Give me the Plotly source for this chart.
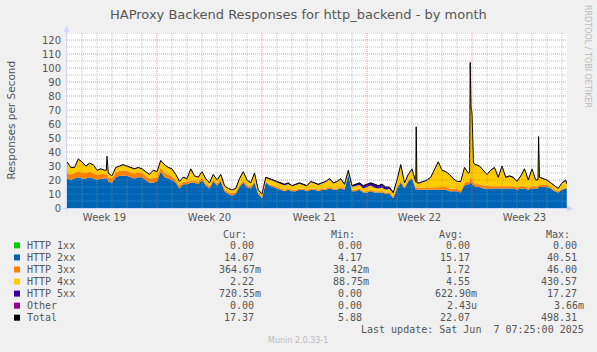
import numpy as np
import plotly.graph_objects as go

# ---------------- data ----------------
# sample times in days since start of the 33-day window (6-hour samples)
grid_days = np.arange(0, 33.26, 0.25)

# one line per day: values at +0h, +6h, +12h, +18h
http_2xx_grid = [
    21, 20, 21, 22,  21, 21, 22, 21,  20, 21, 21, 19,  18, 22, 23, 23,
    23, 22, 21, 22,  22, 20, 18, 18,  19, 26, 22, 21,  20, 18, 14, 17,
    17, 18, 18, 17,  20, 16, 14, 19,  16, 19, 12, 10,  9, 10, 15, 18,
    15, 14, 18, 10,  7, 18, 16, 15,  14, 13, 12, 13,  12, 12, 13, 13,
    12, 13, 13, 12,  13, 13, 14, 13,  13, 14, 13, 24,  12, 12, 13, 11,
    11, 12, 11, 11,  11, 10, 10, 7,  14, 18, 14, 19,  21, 13, 13, 13,
    13, 13, 13, 13,  13, 13, 12, 12,  12, 11, 16, 17,  17, 15, 15, 14,
    14, 14, 14, 14,  14, 14, 14, 14,  13, 14, 14, 13,  14, 14, 15, 15,
    15, 14, 12, 11,  13, 14,
]
http_3xx_grid = [
    4, 4, 4, 4.5,  4, 4, 4, 4,  3.5, 3.5, 3, 3,  3, 3.5, 3.5, 4,
    3.5, 3.5, 3.5, 3.5,  3, 3, 3, 3.5,  3, 3, 3, 3,  2.5, 2, 2, 2,
    1.5, 1.5, 1.5, 1.5,  2, 1.5, 1.5, 1.5,  1.5, 1.5, 1.5, 1.5,  1.5, 1.5, 1.5, 1.5,
    1.5, 1.5, 1.5, 1,  1, 1, 1, 1,  1, 1, 1, 1,  1, 1, 1, 1,
    1, 1, 1, 1,  1, 1, 1, 1,  1, 1, 1, 0.5,  1, 1, 1, 1,
    1, 1, 1, 1,  1, 1, 1, 1,  1, 1.5, 1, 1,  1, 1.5, 1.5, 1.5,
    1.5, 1.5, 2, 2,  2, 2, 2, 2,  1.5, 1.5, 2, 2,  3, 2, 2, 2,
    1.5, 1.5, 1.5, 1.5,  1.5, 1.5, 1.5, 1.5,  1.5, 1.5, 1.5, 1.5,  1.5, 1.5, 1.5, 1.5,
    1.5, 1, 1, 1,  1, 0.5,
]
http_4xx_grid = [
    7.7, 4.7, 3.7, 8.2,  7.7, 4.7, 5.7, 5.7,  3.2, 3.2, 2.7, 2.7,  1.7, 3.2, 3.2, 3.7,
    3.2, 3.2, 3.2, 3.2,  2.7, 2.7, 2.7, 5.2,  3.7, 4.7, 5.7, 4.7,  5.2, 3.7, 2.7, 2.7,
    2.2, 8.2, 3.2, 3.2,  3.7, 3.2, 2.2, 3.2,  2.2, 3.2, 2.2, 2.2,  2.2, 2.2, 4.2, 6.2,
    3.2, 2.2, 5.2, 1.7,  1.7, 2.5, 3.5, 3.3,  3, 3, 3, 3.2,  2.5, 3.5, 3.3, 2.3,
    2.5, 4.5, 3.5, 3.5,  3.5, 4.5, 5.5, 3.5,  4.5, 5.5, 2.5, 1,  2.2, 3, 2.5, 2,
    3, 3, 2.5, 2,  2.5, 2, 2.5, 2.5,  4.5, 11, 2.5, 3.5,  5.5, 3.7, 3.2, 4.2,
    5.2, 7.2, 11.7, 17.7,  11.7, 10.7, 9.7, 6.7,  5.2, 6.2, 10.7, 5.7,  47.5, 13.7, 12.7, 10.7,
    8.2, 11.2, 13, 6,  14, 6, 7, 6,  4.2, 7.2, 12.2, 5.2,  12.2, 4.2, 5.2, 4.2,
    3.2, 2.7, 2.7, 1.7,  3.7, 4.8,
]
http_5xx_grid = [
    0.3, 0.3, 0.3, 0.3,  0.3, 0.3, 0.3, 0.3,  0.3, 0.3, 0.3, 0.3,  0.3, 0.3, 0.3, 0.3,
    0.3, 0.3, 0.3, 0.3,  0.3, 0.3, 0.3, 0.3,  0.3, 0.3, 0.3, 0.3,  0.3, 0.3, 0.3, 0.3,
    0.3, 0.3, 0.3, 0.3,  0.3, 0.3, 0.3, 0.3,  0.3, 0.3, 0.3, 0.3,  0.3, 0.3, 0.3, 0.3,
    0.3, 0.3, 0.3, 0.3,  0.3, 0.5, 0.5, 0.7,  1, 1, 1, 0.8,  0.5, 0.5, 0.7, 0.7,
    0.5, 0.5, 0.5, 0.5,  0.5, 0.5, 0.5, 0.5,  0.5, 0.5, 0.5, 1.5,  0.8, 1, 1.5, 2,
    2, 2, 2.5, 2,  2.5, 2, 1.5, 0.5,  0.5, 0.5, 0.5, 0.5,  0.5, 0.5, 0.3, 0.3,
    0.3, 0.3, 0.3, 0.3,  0.3, 0.3, 0.3, 0.3,  0.3, 0.3, 0.3, 0.3,  0.3, 0.3, 0.3, 0.3,
    0.3, 0.3, 0.5, 0.5,  0.5, 0.5, 0.5, 0.5,  0.3, 0.3, 0.3, 0.3,  0.3, 0.3, 0.3, 0.3,
    0.3, 0.3, 0.3, 0.3,  0.3, 0.7,
]

# short spikes between the 6-hour samples (with their shoulders), plus the final sample
extra_days = [2.62, 2.67, 2.72, 23.28, 23.33, 26.84, 26.88, 26.94, 27.10, 31.40, 31.44, 33.32]
http_2xx_extra = [21, 22, 19, 14, 13, 17, 18, 18, 16, 14, 15, 14.07]
http_3xx_extra = [3, 3.5, 3, 1.5, 1.5, 2, 4, 3, 2, 1.5, 1.5, 0.36]
http_4xx_extra = [2.7, 11.2, 3, 42, 3.2, 6, 81.5, 50.5, 13.7, 4.5, 34.2, 2.22]
http_5xx_extra = [0.3, 0.3, 0.3, 0.5, 0.3, 0.3, 0.5, 0.5, 0.3, 0.3, 0.3, 0.72]

for arr in (http_2xx_grid, http_3xx_grid, http_4xx_grid, http_5xx_grid):
    assert len(arr) == len(grid_days), len(arr)
for arr in (http_2xx_extra, http_3xx_extra, http_4xx_extra, http_5xx_extra):
    assert len(arr) == len(extra_days), len(arr)

week_labels = ["Week 19", "Week 20", "Week 21", "Week 22", "Week 23"]
week_centers = [2.5, 9.5, 16.5, 23.5, 30.5]
week_starts = [6, 13, 20, 27]

legend_names = ["HTTP 1xx", "HTTP 2xx", "HTTP 3xx", "HTTP 4xx", "HTTP 5xx", "Other", "Total"]
legend_colors = ["#00CC00", "#0066B3", "#FF8000", "#FFCC00", "#330099", "#990099", "#000000"]
cur_vals = ["0.00", "14.07", "364.67m", "2.22", "720.55m", "0.00", "17.37"]
min_vals = ["0.00", "4.17", "38.42m", "88.75m", "0.00", "0.00", "5.88"]
avg_vals = ["0.00", "15.17", "1.72", "4.55", "622.90m", "2.43u", "22.07"]
max_vals = ["0.00", "40.51", "46.00", "430.57", "17.27", "3.66m", "498.31"]

# ---------------- assemble ----------------
days_all = np.concatenate([grid_days, extra_days])
order = np.argsort(days_all, kind="stable")
days = days_all[order]


def merged(g, e):
    return np.concatenate([np.asarray(g, float), np.asarray(e, float)])[order]


h2 = merged(http_2xx_grid, http_2xx_extra)
h3 = merged(http_3xx_grid, http_3xx_extra)
h4 = merged(http_4xx_grid, http_4xx_extra)
h5 = merged(http_5xx_grid, http_5xx_extra)
h1 = np.zeros_like(h2)
other = np.zeros_like(h2)
total = h1 + h2 + h3 + h4 + h5 + other

# ---------------- geometry ----------------
W, H = 597, 352
PX0, PX1 = 67, 567
PY0, PY1 = 208, 33  # bottom, top
XMAX = 33.333
YMAX = 125


def px(x):
    return (x - PX0) / (PX1 - PX0)


def py(y):
    return (PY0 - y) / (PY0 - PY1)


FONT = "#555555"
AXIS = "#CFD6F8"

fig = go.Figure()
for name, y, c in zip(legend_names[:6], [h1, h2, h3, h4, h5, other], legend_colors[:6]):
    fig.add_trace(go.Scatter(x=days, y=y, name=name, stackgroup="s", mode="lines",
                             line=dict(width=0, color=c), fillcolor=c, hoverinfo="skip"))
fig.add_trace(go.Scatter(x=days, y=total, name="Total", mode="lines",
                         line=dict(color="#000000", width=1), hoverinfo="skip"))

shapes = []
dot = "1px,1px"
for v in range(5, YMAX + 1, 10):
    shapes.append(dict(type="line", xref="x", yref="y", x0=0, x1=XMAX, y0=v, y1=v,
                       line=dict(color="rgba(150,150,150,0.55)", width=1, dash=dot), layer="above"))
for v in range(10, YMAX, 10):
    shapes.append(dict(type="line", xref="x", yref="y", x0=0, x1=XMAX, y0=v, y1=v,
                       line=dict(color="rgba(240,80,80,0.6)", width=1, dash=dot), layer="above"))
for d in range(1, 34):
    col = "rgba(240,80,80,0.6)" if d in week_starts else "rgba(150,150,150,0.55)"
    shapes.append(dict(type="line", xref="x", yref="y", x0=d, x1=d, y0=0, y1=YMAX,
                       line=dict(color=col, width=1, dash=dot), layer="above"))

# axes with arrows
shapes.append(dict(type="line", xref="paper", yref="paper", x0=px(66.5), x1=px(66.5),
                   y0=py(211), y1=py(30), line=dict(color=AXIS, width=1), layer="above"))
shapes.append(dict(type="line", xref="paper", yref="paper", x0=px(63), x1=px(569),
                   y0=py(208.5), y1=py(208.5), line=dict(color=AXIS, width=1), layer="above"))
shapes.append(dict(type="path", xref="paper", yref="paper", layer="above",
                   path=f"M {px(63.5)} {py(32)} L {px(69.5)} {py(32)} L {px(66.5)} {py(26)} Z",
                   fillcolor=AXIS, line=dict(width=0)))
shapes.append(dict(type="path", xref="paper", yref="paper", layer="above",
                   path=f"M {px(567)} {py(205.5)} L {px(567)} {py(211.5)} L {px(573)} {py(208.5)} Z",
                   fillcolor=AXIS, line=dict(width=0)))

ann = []
ann.append(dict(text="HAProxy Backend Responses for http_backend - by month", x=px(298.5), y=py(14),
                xref="paper", yref="paper", showarrow=False, xanchor="center", yanchor="middle",
                font=dict(family="DejaVu Sans", size=13, color=FONT)))
ann.append(dict(text="Responses per Second", x=px(10.5), y=py(120), textangle=-90,
                xref="paper", yref="paper", showarrow=False, xanchor="center", yanchor="middle",
                font=dict(family="DejaVu Sans", size=10.5, color=FONT)))
ann.append(dict(text="RRDTOOL / TOBI OETIKER", x=px(587.5), y=py(56.5), textangle=90,
                xref="paper", yref="paper", showarrow=False, xanchor="center", yanchor="middle",
                font=dict(family="DejaVu Sans", size=8, color="#BBBBBB")))
ann.append(dict(text="Munin 2.0.33-1", x=px(298), y=py(340.5),
                xref="paper", yref="paper", showarrow=False, xanchor="center", yanchor="middle",
                font=dict(family="DejaVu Sans", size=8, color="#BBBBBB")))

MONO = dict(family="DejaVu Sans Mono", size=10, color=FONT)
CW = 6.02
col_right = [260.5, 368.5, 476.5, 583.5]
for hdr, r in zip(["Cur:", "Min:", "Avg:", "Max:"], col_right):
    ann.append(dict(text=hdr, x=px(r - 14), y=py(234), xref="paper", yref="paper", showarrow=False,
                    xanchor="right", yanchor="middle", font=MONO, borderpad=0, borderwidth=0))
row_y0, row_dy = 245.4, 12.05
for i, name in enumerate(legend_names):
    yy = row_y0 + i * row_dy
    shapes.append(dict(type="rect", xref="paper", yref="paper", x0=px(14), x1=px(20),
                       y0=py(yy + 3), y1=py(yy - 3), fillcolor=legend_colors[i], line=dict(width=0)))
    ann.append(dict(text=name, x=px(26.5), y=py(yy), xref="paper", yref="paper", showarrow=False,
                    xanchor="left", yanchor="middle", font=MONO, borderpad=0, borderwidth=0))
    for vals, r in zip([cur_vals, min_vals, avg_vals, max_vals], col_right):
        v = vals[i]
        rr = r if v[-1].isalpha() else r - CW
        ann.append(dict(text=v, x=px(rr), y=py(yy), xref="paper", yref="paper", showarrow=False,
                        xanchor="right", yanchor="middle", font=MONO, borderpad=0, borderwidth=0))
ann.append(dict(text="Last update: Sat Jun&nbsp;&nbsp;7 07:25:00 2025", x=px(583.5), y=py(329.4),
                xref="paper", yref="paper", showarrow=False, xanchor="right", yanchor="middle",
                font=MONO, borderpad=0, borderwidth=0))

fig.update_layout(
    width=W, height=H,
    margin=dict(l=PX0, r=W - PX1, t=PY1, b=H - PY0, pad=0),
    paper_bgcolor="#F0F0F0", plot_bgcolor="#FFFFFF",
    showlegend=False,
    xaxis=dict(range=[0, XMAX], showgrid=False, zeroline=False, showline=False,
               tickvals=week_centers, ticktext=week_labels, ticks="", ticklabelstandoff=2,
               tickfont=dict(family="DejaVu Sans", size=10, color=FONT), fixedrange=True),
    yaxis=dict(range=[0, YMAX], showgrid=False, zeroline=False, showline=False,
               tickvals=list(range(0, 121, 10)), ticks="", ticklabelstandoff=5,
               tickfont=dict(family="DejaVu Sans", size=10, color=FONT), fixedrange=True),
    shapes=shapes, annotations=ann,
)

fig.write_html("out.html")
